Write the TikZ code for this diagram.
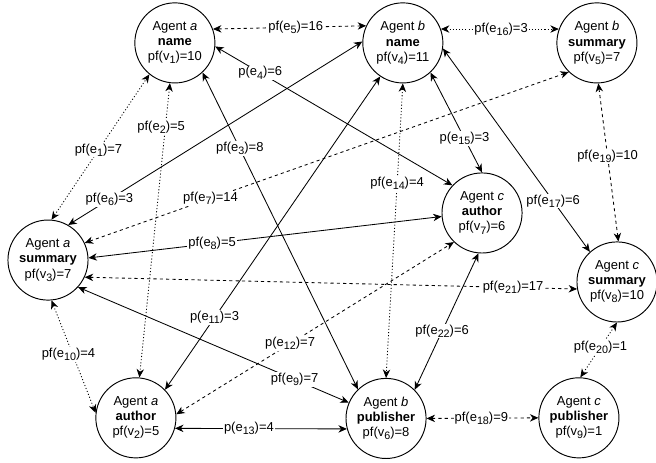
\documentclass[tikz,border=0pt]{standalone}
\usepackage{fontspec}
\setmainfont{Liberation Sans}
\usetikzlibrary{arrows.meta}

\newcommand{\lowsub}[1]{\raisebox{-0.45ex}{\fontsize{10.2}{12}\selectfont #1}}

\tikzset{
  agent/.style={draw, circle, line width=0.9pt, minimum size=2.67cm, inner sep=0pt,
    align=center, font=\fontsize{12.3}{14.3}\selectfont},
  lbl/.style={fill=white, inner sep=1pt, font=\fontsize{12.3}{14.3}\selectfont},
  link/.style={line width=0.8pt, <->, >={Stealth[length=8pt,width=7pt,inset=2.5pt]}},
  dashlink/.style={link, dash pattern=on 3pt off 3pt},
  dotlink/.style={link, dash pattern=on 1pt off 2pt}
}

\begin{document}
\begin{tikzpicture}
\useasboundingbox (0,0) rectangle (21.87,-15.43);

\node[agent] (v1) at (5.83,-1.43) {Agent \textit{a}\\\textbf{name}\\pf(v\lowsub{1})=10};
\node[agent] (v4) at (13.43,-1.43) {Agent \textit{b}\\\textbf{name}\\pf(v\lowsub{4})=11};
\node[agent] (v5) at (19.9,-1.43) {Agent \textit{b}\\\textbf{summary}\\pf(v\lowsub{5})=7};

\node[agent] (v3) at (1.6,-8.67) {Agent \textit{a}\\\textbf{summary}\\pf(v\lowsub{3})=7};
\node[agent] (v7) at (16.07,-7.1) {Agent \textit{c}\\\textbf{author}\\pf(v\lowsub{7})=6};
\node[agent] (v8) at (20.57,-9.4) {Agent \textit{c}\\\textbf{summary}\\pf(v\lowsub{8})=10};

\node[agent] (v2) at (4.53,-13.93) {Agent \textit{a}\\\textbf{author}\\pf(v\lowsub{2})=5};
\node[agent] (v6) at (12.87,-13.95) {Agent \textit{b}\\\textbf{publisher}\\pf(v\lowsub{6})=8};
\node[agent] (v9) at (19.3,-13.93) {Agent \textit{c}\\\textbf{publisher}\\pf(v\lowsub{9})=1};

% edges of agent a
\draw[dotlink] (v3.85) -- node[lbl,pos=.48] {pf(e\lowsub{1})=7} (v1.231);
\draw[dotlink] (v1.263) -- node[lbl,pos=.15,xshift=-4pt] {pf(e\lowsub{2})=5} (v2.85);
\draw[link] (v1.313) -- node[lbl,pos=.24] {pf(e\lowsub{3})=8} (v6.134);
\draw[link] (v1.355) -- node[lbl,pos=.19] {p(e\lowsub{4})=6} (v7.137);
\draw[dashlink] (v1.20) -- node[lbl,pos=.54] {pf(e\lowsub{5})=16} (v4.155);
\draw[link] (v3.60) -- node[lbl,pos=.14] {pf(e\lowsub{6})=3} (v4.178);
\draw[dashlink] (v3.25) -- node[lbl,pos=.26] {pf(e\lowsub{7})=14} (v5.226);
\draw[link] (v3.3) -- node[lbl,pos=.35] {pf(e\lowsub{8})=5} (v7.185);
\draw[link] (v3.318) -- node[lbl,pos=.8] {pf(e\lowsub{9})=7} (v6.157);
\draw[dotlink] (v3.275) -- node[lbl,pos=.48,xshift=-4pt] {pf(e\lowsub{10})=4} (v2.173);
\draw[link] (v2.44) -- node[lbl,pos=.23] {p(e\lowsub{11})=3} (v4.236);
\draw[dashlink] (v2.5) -- node[lbl,pos=.41] {p(e\lowsub{12})=7} (v7.226);
\draw[link] (v2.345) -- node[lbl,pos=.43] {p(e\lowsub{13})=4} (v6.195);

% edges of agent b and c
\draw[dotlink] (v4.270) -- node[lbl,pos=.34] {pf(e\lowsub{14})=4} (v6.90);
\draw[link] (v4.313) -- node[lbl,pos=.66] {p(e\lowsub{15})=3} (v7.90);
\draw[dotlink] (v4.20) -- node[lbl,pos=.51] {pf(e\lowsub{16})=3} (v5.160);
\draw[link] (v4.352) -- node[lbl,pos=.75] {pf(e\lowsub{17})=6} (v8.132);
\draw[dashlink] (v6.0) -- node[lbl,pos=.49] {pf(e\lowsub{18})=9} (v9.180);
\draw[dashlink] (v5.272) -- node[lbl,pos=.46] {pf(e\lowsub{19})=10} (v8.88);
\draw[dotlink] (v8.270) -- node[lbl,pos=.45] {pf(e\lowsub{20})=1} (v9.88);
\draw[dashlink] (v3.335) -- node[lbl,pos=.87] {pf(e\lowsub{21})=17} (v8.190);
\draw[link] (v6.45) -- node[lbl,pos=.43] {pf(e\lowsub{22})=6} (v7.265);

\end{tikzpicture}
\end{document}
